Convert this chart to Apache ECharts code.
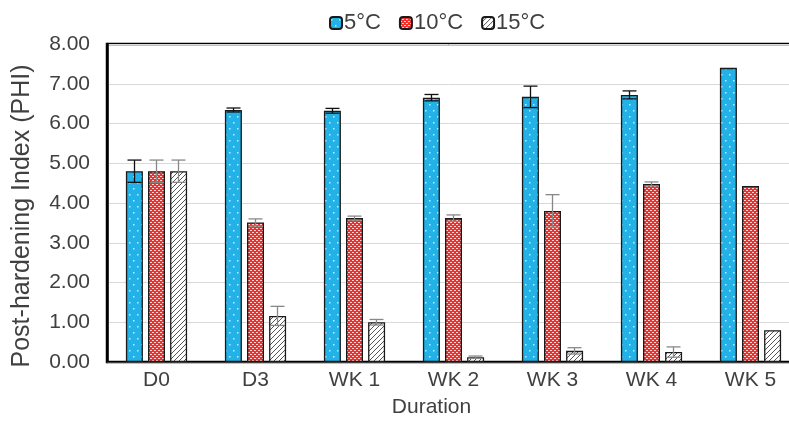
<!DOCTYPE html>
<html>
<head>
<meta charset="utf-8">
<script src="https://cdn.jsdelivr.net/npm/echarts@6/dist/echarts.min.js"></script>
<style>
  html, body { margin: 0; padding: 0; background: #fff; }
  #chart { width: 789px; height: 421px; }
</style>
</head>
<body>
<div id="chart"></div>
<script>
const categories = ['D0', 'D3', 'WK 1', 'WK 2', 'WK 3', 'WK 4', 'WK 5'];
const seriesNames = ['5°C', '10°C', '15°C'];

const temp5 = [4.80, 6.34, 6.32, 6.65, 6.67, 6.72, 7.40];
const temp5Err = [0.28, 0.05, 0.06, 0.08, 0.27, 0.10, 0];
const temp10 = [4.80, 3.51, 3.62, 3.62, 3.80, 4.48, 4.43];
const temp10Err = [0.28, 0.09, 0.05, 0.08, 0.41, 0.05, 0];
const temp15 = [4.80, 1.16, 1.00, 0.12, 0.28, 0.25, 0.80];
const temp15Err = [0.28, 0.24, 0.07, 0.03, 0.08, 0.13, 0];

const yTicks = [0, 1, 2, 3, 4, 5, 6, 7, 8];

// fill patterns
function makePattern(w, h, draw) {
  const c = document.createElement('canvas');
  c.width = w; c.height = h;
  draw(c.getContext('2d'));
  return { image: c, repeat: 'repeat' };
}
const bluePattern = makePattern(8, 12, ctx => {
  ctx.fillStyle = '#22b2e7';
  ctx.fillRect(0, 0, 8, 12);
  ctx.fillStyle = 'rgba(255,255,255,0.75)';
  ctx.fillRect(1, 2, 1.5, 1.5);
  ctx.fillRect(5, 8, 1.5, 1.5);
});
const redPattern = makePattern(4, 4, ctx => {
  ctx.fillStyle = '#f0302c';
  ctx.fillRect(0, 0, 4, 4);
  ctx.fillStyle = 'rgba(255,255,255,0.8)';
  ctx.fillRect(0, 0, 2, 1);
  ctx.fillRect(2, 2, 2, 1);
});
const hatchPattern = makePattern(5, 5, ctx => {
  ctx.fillStyle = '#ffffff';
  ctx.fillRect(0, 0, 5, 5);
  ctx.strokeStyle = '#555';
  ctx.lineWidth = 1;
  ctx.beginPath();
  ctx.moveTo(-1, 6); ctx.lineTo(6, -1);
  ctx.moveTo(-1, 1); ctx.lineTo(1, -1);
  ctx.moveTo(4, 6); ctx.lineTo(6, 4);
  ctx.stroke();
});

const barWidth = 17;
const barGapPx = 5;

function errorSeries(values, errs, idx, color) {
  return {
    type: 'custom',
    name: seriesNames[idx] + ' err',
    z: 10,
    silent: true,
    data: values.map((v, i) => [i, v, errs[i]]),
    renderItem: function (params, api) {
      const err = api.value(2);
      if (!err) return null;
      const v = api.value(1);
      const off = (idx - 1) * (barWidth + barGapPx);
      const hi = api.coord([api.value(0), v + err]);
      const lo = api.coord([api.value(0), v - err]);
      const x = hi[0] + off;
      const cap = 7;
      const style = { stroke: color, lineWidth: 1.3 };
      return {
        type: 'group',
        children: [
          { type: 'line', shape: { x1: x, y1: hi[1], x2: x, y2: lo[1] }, style },
          { type: 'line', shape: { x1: x - cap, y1: hi[1], x2: x + cap, y2: hi[1] }, style },
          { type: 'line', shape: { x1: x - cap, y1: lo[1], x2: x + cap, y2: lo[1] }, style }
        ]
      };
    }
  };
}

function barSeries(name, values, pattern) {
  return {
    name: name,
    type: 'bar',
    data: values,
    barWidth: barWidth,
    barGap: '30%',
    itemStyle: { color: pattern, borderColor: '#1a1a1a', borderWidth: 1.3 }
  };
}

const chart = echarts.init(document.getElementById('chart'));
chart.setOption({
  animation: false,
  textStyle: { fontFamily: 'Liberation Sans, Arial, sans-serif' },
  legend: {
    data: seriesNames,
    top: 7,
    left: 324,
    itemWidth: 12,
    itemHeight: 12,
    itemGap: 18,
    textStyle: { fontSize: 22, color: '#404040', padding: [0, 0, 0, -3] }
  },
  grid: {
    left: 107,
    top: 44,
    right: -11,
    bottom: 59,
    outerBoundsMode: 'none',
    show: true,
    borderColor: '#000',
    borderWidth: 2.5
  },
  xAxis: {
    type: 'category',
    data: categories,
    name: 'Duration',
    nameLocation: 'middle',
    nameGap: 35,
    nameTextStyle: { fontSize: 21, color: '#404040', padding: [0, 44, 0, 0] },
    axisTick: { show: false },
    axisLine: { lineStyle: { color: '#404040', width: 1 } },
    axisLabel: { fontSize: 21, color: '#404040', margin: 8 }
  },
  yAxis: {
    type: 'value',
    min: yTicks[0],
    max: yTicks[yTicks.length - 1],
    interval: 1,
    name: 'Post-hardening Index (PHI)',
    nameLocation: 'middle',
    nameGap: 72,
    nameTextStyle: { fontSize: 25, color: '#404040', padding: [0, 26, 0, 0] },
    axisLine: { show: true, lineStyle: { color: '#000', width: 2.5 } },
    axisTick: { show: false },
    axisLabel: { fontSize: 21, color: '#404040', margin: 17, formatter: v => v.toFixed(2) },
    splitLine: { lineStyle: { color: '#d9d9d9', width: 1 } }
  },
  series: [
    barSeries(seriesNames[0], temp5, bluePattern),
    barSeries(seriesNames[1], temp10, redPattern),
    barSeries(seriesNames[2], temp15, hatchPattern),
    errorSeries(temp5, temp5Err, 0, '#111'),
    errorSeries(temp10, temp10Err, 1, '#888'),
    errorSeries(temp15, temp15Err, 2, '#888')
  ]
});
</script>
</body>
</html>
